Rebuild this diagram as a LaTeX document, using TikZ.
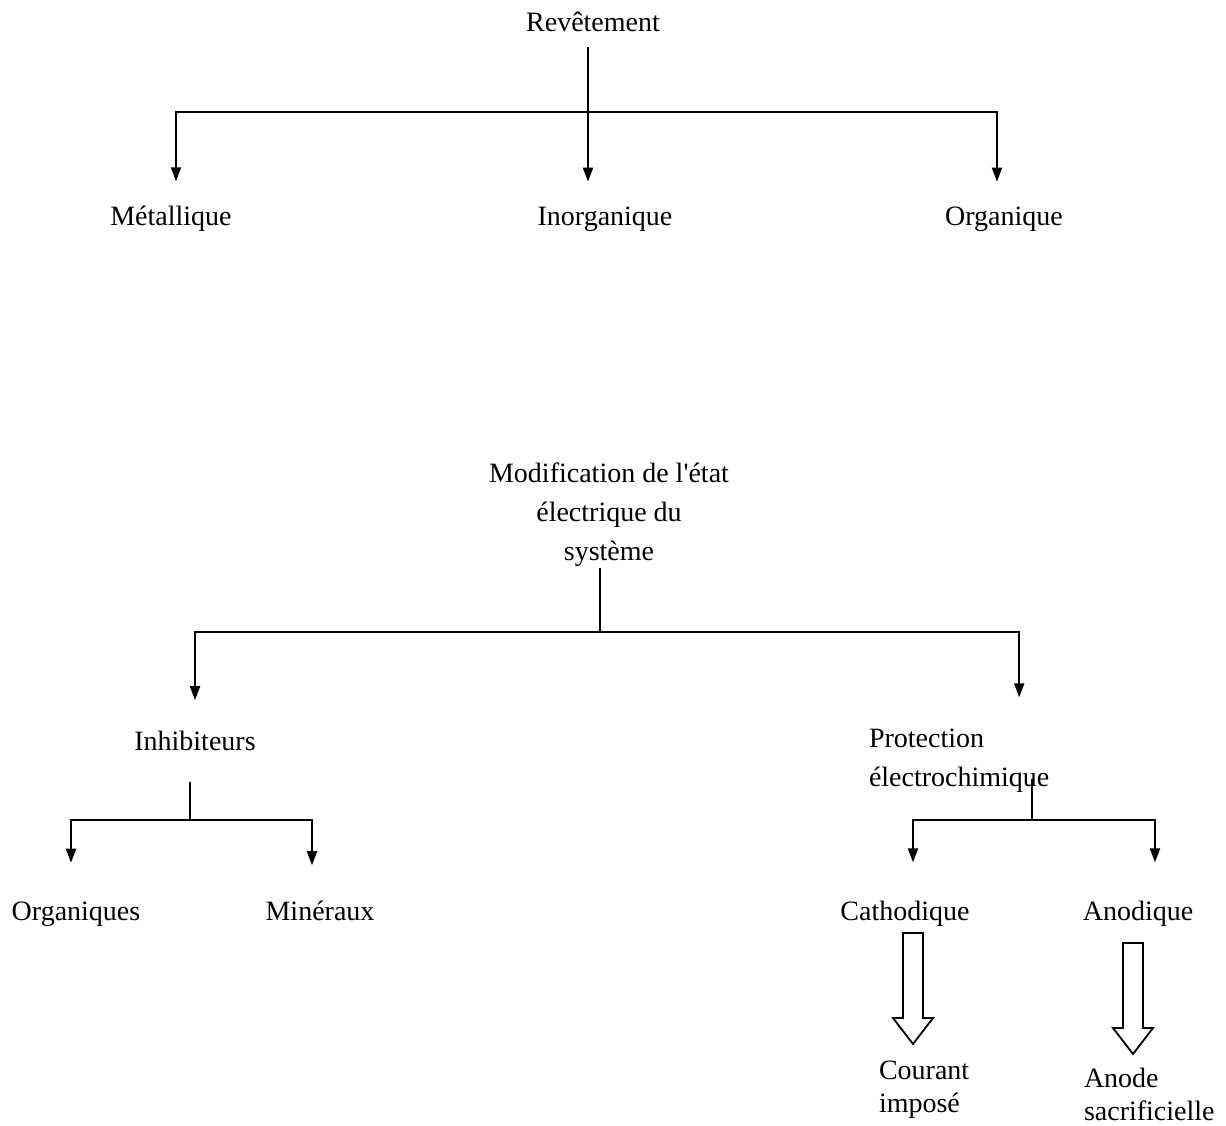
\documentclass[tikz,border=0pt]{standalone}
\usepackage{fontspec}
\setmainfont{Liberation Serif}
\usetikzlibrary{arrows.meta}

\tikzset{
  txt/.style={inner sep=0pt, font=\fontsize{14}{19.5}\selectfont},
  hollow/.style={line width=0.9pt},
}

\begin{document}
\begin{tikzpicture}[x=0.5pt,y=-0.5pt,>={Triangle[length=7pt,width=5pt]},line width=1pt]
\useasboundingbox (0,0) rectangle (1226,1125);
% Revetement
\node[txt] (rev) at (593,22) {Revêtement};
\node[txt] (met) at (171,219) {Métallique};
\node[txt] (inorg) at (605,219) {Inorganique};
\node[txt] (org) at (1004,219) {Organique};
\coordinate (j1) at (588,112);
\draw[->,shorten <=7pt,shorten >=12pt] (rev.south -| j1) -- (inorg.north -| j1);
\draw[->,shorten >=12pt] (j1) -| ([xshift=2.5pt]met.north);
\draw[->,shorten >=12pt] (j1) -| ([xshift=-3.5pt]org.north);

% etat electrique
\node[txt,align=center] (mod) at (609,515) {Modification de l\textquotesingle état\\électrique du\\système};
\node[txt] (inh) at (195,741) {Inhibiteurs};
\node[txt,anchor=west,align=left] (prot) at (868,761) {Protection\\électrochimique};
\coordinate (j2) at (600,632);
\draw (mod.south -| j2) -- (j2);
\draw[->,shorten >=15pt] (j2) -| (inh.north);
\draw[->,shorten >=15.5pt] (j2) -| ([xshift=30pt]prot.north);

\node[txt] (orgs) at (76,914) {Organiques};
\node[txt] (min) at (320,911) {Minéraux};
\node[txt] (cath) at (905,914) {Cathodique};
\node[txt] (anod) at (1138,914) {Anodique};
\coordinate (j3) at (190,820);
\coordinate (j4) at (1032,820);
\draw[shorten <=15pt] (inh.south -| j3) -- (j3);
\draw[shorten <=-7.5pt] (prot.south -| j4) -- (j4);
\draw[->,shorten >=19pt] (j3) -| ([xshift=-2.5pt]orgs.north);
\draw[->,shorten >=17.5pt] (j3) -| ([xshift=-4pt]min.north);
\draw[->,shorten >=19pt] (j4) -| ([xshift=4pt]cath.north);
\draw[->,shorten >=19pt] (j4) -| ([xshift=8.5pt]anod.north);

% big arrows
\coordinate (c1) at (913,933);
\coordinate (c2) at (1133,943);
\foreach \c in {c1,c2}
  \draw[hollow] (\c) ++(-10,0) -- ++(0,85) -- ++(-10,0) -- ++(20,26) -- ++(20,-26) -- ++(-10,0) -- ++(0,-85) -- cycle;
\node[txt,anchor=west,align=left] (cour) at (878,1090) {Courant\\[-3pt]imposé};
\node[txt,anchor=west,align=left] (sacr) at (1083,1094) {Anode\\[-3pt]sacrificielle};
\end{tikzpicture}
\end{document}
